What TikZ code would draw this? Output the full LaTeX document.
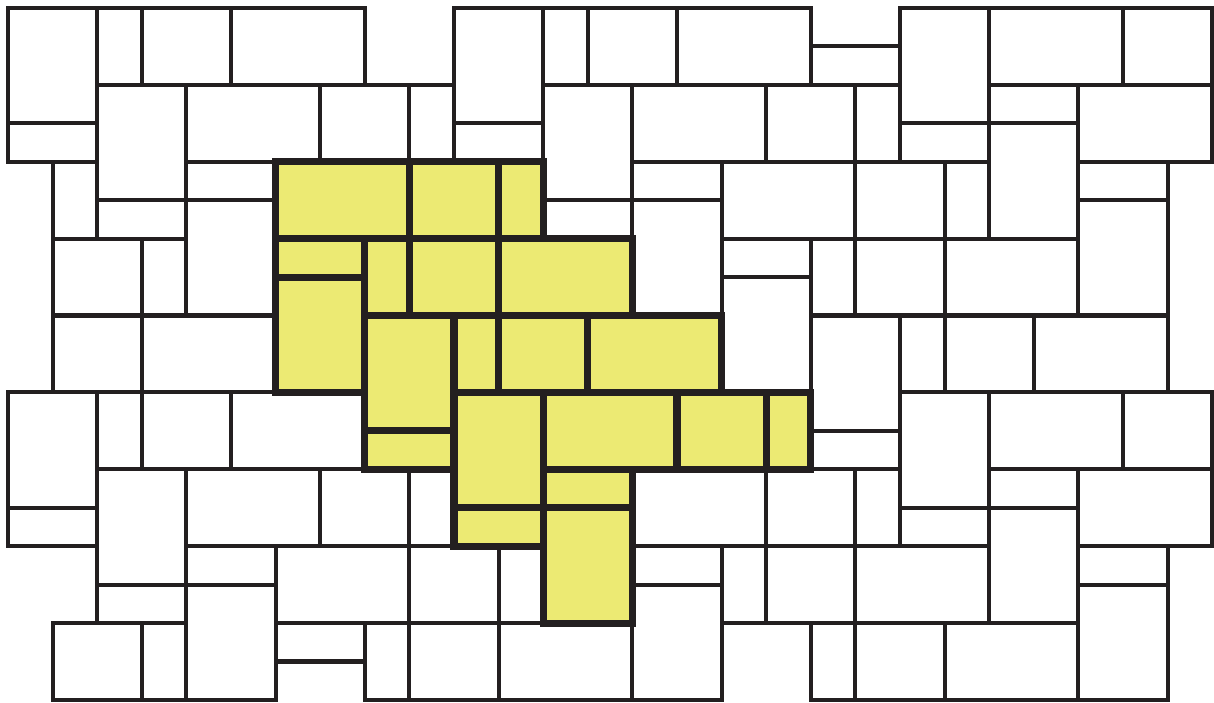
\documentclass[tikz,border=0pt]{standalone}
\usepackage{tikz}
\definecolor{tileline}{RGB}{35,31,32}
\definecolor{tileyellow}{RGB}{236,234,115}

\begin{document}
\begin{tikzpicture}[x=0.446cm,  y=-0.3844cm,
    tile/.style={draw=tileline,  line width=1.15pt,  fill=white},
    ytile/.style={draw=tileline,  line width=2pt,  fill=tileyellow}]
          \useasboundingbox (-0.179, -0.208) rectangle (27.04, 18.08);
          \draw[tile]  (18, 1) rectangle ++(2, 1);
          \draw[tile]  (0, 0) rectangle ++(2, 3);
          \draw[tile]  (0, 3) rectangle ++(2, 1);
          \draw[tile]  (10, 0) rectangle ++(2, 3);
          \draw[tile]  (10, 3) rectangle ++(2, 1);
          \draw[tile]  (20, 0) rectangle ++(2, 3);
          \draw[tile]  (20, 3) rectangle ++(2, 1);
          \draw[tile]  (2, 0) rectangle ++(1, 2);
          \draw[tile]  (3, 0) rectangle ++(2, 2);
          \draw[tile]  (5, 0) rectangle ++(3, 2);
          \draw[tile]  (2, 2) rectangle ++(2, 3);
          \draw[tile]  (2, 5) rectangle ++(2, 1);
          \draw[tile]  (12, 0) rectangle ++(1, 2);
          \draw[tile]  (13, 0) rectangle ++(2, 2);
          \draw[tile]  (15, 0) rectangle ++(3, 2);
          \draw[tile]  (12, 2) rectangle ++(2, 3);
          \draw[tile]  (12, 5) rectangle ++(2, 1);
          \draw[tile]  (22, 0) rectangle ++(3, 2);
          \draw[tile]  (25, 0) rectangle ++(2, 2);
          \draw[tile]  (22, 2) rectangle ++(2, 1);
          \draw[tile]  (22, 3) rectangle ++(2, 3);
          \draw[tile]  (4, 2) rectangle ++(3, 2);
          \draw[tile]  (7, 2) rectangle ++(2, 2);
          \draw[tile]  (9, 2) rectangle ++(1, 2);
          \draw[tile]  (4, 4) rectangle ++(2, 1);
          \draw[tile]  (4, 5) rectangle ++(2, 3);
          \draw[tile]  (14, 2) rectangle ++(3, 2);
          \draw[tile]  (17, 2) rectangle ++(2, 2);
          \draw[tile]  (19, 2) rectangle ++(1, 2);
          \draw[tile]  (14, 4) rectangle ++(2, 1);
          \draw[tile]  (14, 5) rectangle ++(2, 3);
          \draw[tile]  (24, 2) rectangle ++(3, 2);
          \draw[tile]  (24, 4) rectangle ++(2, 1);
          \draw[tile]  (24, 5) rectangle ++(2, 3);
          \draw[tile]  (1, 4) rectangle ++(1, 2);
          \draw[tile]  (16, 4) rectangle ++(3, 2);
          \draw[tile]  (19, 4) rectangle ++(2, 2);
          \draw[tile]  (21, 4) rectangle ++(1, 2);
          \draw[tile]  (16, 6) rectangle ++(2, 1);
          \draw[tile]  (16, 7) rectangle ++(2, 3);
          \draw[tile]  (1, 6) rectangle ++(2, 2);
          \draw[tile]  (3, 6) rectangle ++(1, 2);
          \draw[tile]  (18, 6) rectangle ++(1, 2);
          \draw[tile]  (19, 6) rectangle ++(2, 2);
          \draw[tile]  (21, 6) rectangle ++(3, 2);
          \draw[tile]  (18, 8) rectangle ++(2, 3);
          \draw[tile]  (18, 11) rectangle ++(2, 1);
          \draw[tile]  (1, 8) rectangle ++(2, 2);
          \draw[tile]  (3, 8) rectangle ++(3, 2);
          \draw[tile]  (0, 10) rectangle ++(2, 3);
          \draw[tile]  (0, 13) rectangle ++(2, 1);
          \draw[tile]  (20, 8) rectangle ++(1, 2);
          \draw[tile]  (21, 8) rectangle ++(2, 2);
          \draw[tile]  (23, 8) rectangle ++(3, 2);
          \draw[tile]  (20, 10) rectangle ++(2, 3);
          \draw[tile]  (20, 13) rectangle ++(2, 1);
          \draw[tile]  (2, 10) rectangle ++(1, 2);
          \draw[tile]  (3, 10) rectangle ++(2, 2);
          \draw[tile]  (5, 10) rectangle ++(3, 2);
          \draw[tile]  (2, 12) rectangle ++(2, 3);
          \draw[tile]  (2, 15) rectangle ++(2, 1);
          \draw[tile]  (22, 10) rectangle ++(3, 2);
          \draw[tile]  (25, 10) rectangle ++(2, 2);
          \draw[tile]  (22, 12) rectangle ++(2, 1);
          \draw[tile]  (22, 13) rectangle ++(2, 3);
          \draw[tile]  (4, 12) rectangle ++(3, 2);
          \draw[tile]  (7, 12) rectangle ++(2, 2);
          \draw[tile]  (9, 12) rectangle ++(1, 2);
          \draw[tile]  (4, 14) rectangle ++(2, 1);
          \draw[tile]  (4, 15) rectangle ++(2, 3);
          \draw[tile]  (14, 12) rectangle ++(3, 2);
          \draw[tile]  (17, 12) rectangle ++(2, 2);
          \draw[tile]  (19, 12) rectangle ++(1, 2);
          \draw[tile]  (14, 14) rectangle ++(2, 1);
          \draw[tile]  (14, 15) rectangle ++(2, 3);
          \draw[tile]  (24, 12) rectangle ++(3, 2);
          \draw[tile]  (24, 14) rectangle ++(2, 1);
          \draw[tile]  (24, 15) rectangle ++(2, 3);
          \draw[tile]  (6, 14) rectangle ++(3, 2);
          \draw[tile]  (9, 14) rectangle ++(2, 2);
          \draw[tile]  (11, 14) rectangle ++(1, 2);
          \draw[tile]  (6, 16) rectangle ++(2, 1);
          \draw[tile]  (16, 14) rectangle ++(1, 2);
          \draw[tile]  (17, 14) rectangle ++(2, 2);
          \draw[tile]  (19, 14) rectangle ++(3, 2);
          \draw[tile]  (1, 16) rectangle ++(2, 2);
          \draw[tile]  (3, 16) rectangle ++(1, 2);
          \draw[tile]  (8, 16) rectangle ++(1, 2);
          \draw[tile]  (9, 16) rectangle ++(2, 2);
          \draw[tile]  (11, 16) rectangle ++(3, 2);
          \draw[tile]  (18, 16) rectangle ++(1, 2);
          \draw[tile]  (19, 16) rectangle ++(2, 2);
          \draw[tile]  (21, 16) rectangle ++(3, 2);
          \draw[ytile]  (6, 4) rectangle ++(3, 2);
          \draw[ytile]  (9, 4) rectangle ++(2, 2);
          \draw[ytile]  (11, 4) rectangle ++(1, 2);
          \draw[ytile]  (6, 6) rectangle ++(2, 1);
          \draw[ytile]  (6, 7) rectangle ++(2, 3);
          \draw[ytile]  (8, 6) rectangle ++(1, 2);
          \draw[ytile]  (9, 6) rectangle ++(2, 2);
          \draw[ytile]  (11, 6) rectangle ++(3, 2);
          \draw[ytile]  (8, 8) rectangle ++(2, 3);
          \draw[ytile]  (8, 11) rectangle ++(2, 1);
          \draw[ytile]  (10, 8) rectangle ++(1, 2);
          \draw[ytile]  (11, 8) rectangle ++(2, 2);
          \draw[ytile]  (13, 8) rectangle ++(3, 2);
          \draw[ytile]  (10, 10) rectangle ++(2, 3);
          \draw[ytile]  (10, 13) rectangle ++(2, 1);
          \draw[ytile]  (12, 10) rectangle ++(3, 2);
          \draw[ytile]  (15, 10) rectangle ++(2, 2);
          \draw[ytile]  (17, 10) rectangle ++(1, 2);
          \draw[ytile]  (12, 12) rectangle ++(2, 1);
          \draw[ytile]  (12, 13) rectangle ++(2, 3);
\end{tikzpicture}
\end{document}
